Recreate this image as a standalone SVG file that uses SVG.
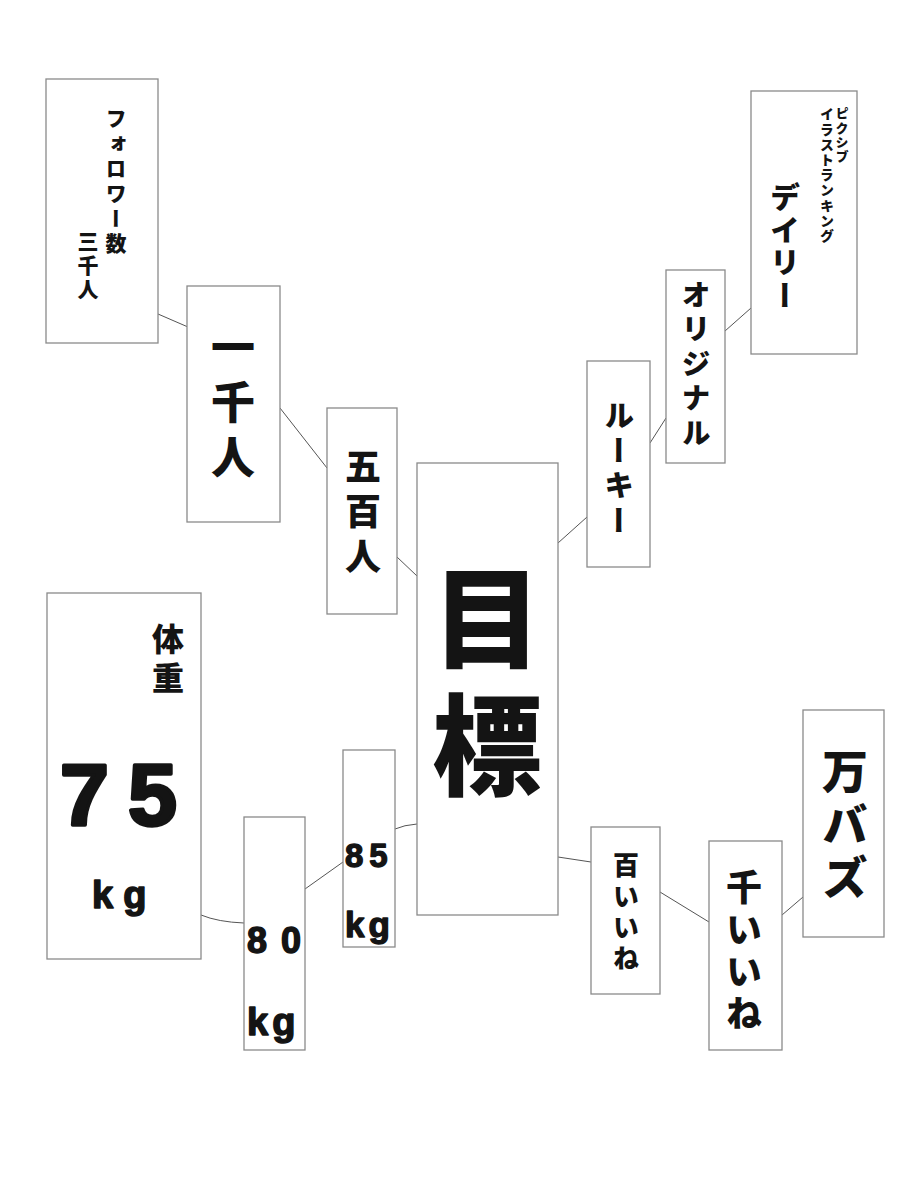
<svg xmlns="http://www.w3.org/2000/svg" width="900" height="1200" viewBox="0 0 900 1200">
<style>
.box{fill:#fff;stroke:#8a8a8a;stroke-width:1.3}
.v{writing-mode:vertical-rl;font-family:"Noto Sans CJK JP","Noto Sans CJK SC",sans-serif;font-weight:900;fill:#141414}
.h{font-family:"Liberation Sans",Arial,sans-serif;font-weight:700;fill:#141414;stroke:#141414;stroke-width:0.04em;stroke-linejoin:round}
.con{fill:none;stroke:#555;stroke-width:1}
</style>
<rect width="900" height="1200" fill="#fff"/>
<g id="connectors">
<path class="con" d="M158,314 L188,327"/>
<path class="con" d="M280,408 L327,468"/>
<path class="con" d="M397,557 L417,576"/>
<path class="con" d="M558,543 L587,517"/>
<path class="con" d="M650,443 L666,418"/>
<path class="con" d="M725,331 L751,308"/>
<path class="con" d="M395,829 Q404,825 417,824"/>
<path class="con" d="M343,862 L305,889"/>
<path class="con" d="M201,915 Q218,922 244,923"/>
<path class="con" d="M558,857 L591,862"/>
<path class="con" d="M660,892 L709,922"/>
<path class="con" d="M782,915 L803,897"/>
</g>
<g id="n-followers">
<rect class="box" x="46" y="79" width="112" height="264"/>
<text class="v" x="116" y="108" font-size="21" letter-spacing="4">フォロワー数</text>
<text class="v" x="88" y="231" font-size="21" letter-spacing="3">三千人</text>
</g>
<g id="n-1000">
<rect class="box" x="187" y="286" width="93" height="236"/>
<text class="v" x="233" y="325" font-size="44" letter-spacing="11">一千人</text>
</g>
<g id="n-500">
<rect class="box" x="327" y="408" width="70" height="206"/>
<text class="v" x="363" y="448" font-size="36" letter-spacing="9">五百人</text>
</g>
<g id="n-goal">
<rect class="box" x="417" y="463" width="141" height="452"/>
<text class="v" x="487" y="563" font-size="110" letter-spacing="17">目標</text>
</g>
<g id="n-rookie">
<rect class="box" x="587" y="361" width="63" height="206"/>
<text class="v" x="619" y="400" font-size="30" letter-spacing="5">ルーキー</text>
</g>
<g id="n-original">
<rect class="box" x="666" y="270" width="59" height="193"/>
<text class="v" x="696" y="280" font-size="29" letter-spacing="5.5">オリジナル</text>
</g>
<g id="n-daily">
<rect class="box" x="751" y="91" width="106" height="263"/>
<text class="v" x="842" y="107" font-size="13" letter-spacing="1.3">ピクシブ</text>
<text class="v" x="827" y="107" font-size="14" letter-spacing="1.2">イラストランキング</text>
<text class="v" x="785" y="182" font-size="30" letter-spacing="2.5">デイリー</text>
</g>
<g id="n-75kg">
<rect class="box" x="47" y="593" width="154" height="366"/>
<text class="v" x="168" y="623" font-size="32" letter-spacing="7">体重</text>
<text class="h" x="60" y="825" font-size="88" letter-spacing="19">75</text>
<text class="h" x="92" y="908" font-size="38" letter-spacing="10">kg</text>
</g>
<g id="n-80kg">
<rect class="box" x="244" y="817" width="61" height="233"/>
<text class="h" x="247" y="953" font-size="36" letter-spacing="14">80</text>
<text class="h" x="247" y="1035" font-size="38" letter-spacing="4">kg</text>
</g>
<g id="n-85kg">
<rect class="box" x="343" y="750" width="52" height="197"/>
<text class="h" x="345" y="867" font-size="33" letter-spacing="6">85</text>
<text class="h" x="345" y="937" font-size="35" letter-spacing="4">kg</text>
</g>
<g id="n-100likes">
<rect class="box" x="591" y="827" width="69" height="167"/>
<text class="v" x="626" y="852" font-size="26" letter-spacing="5">百いいね</text>
</g>
<g id="n-1000likes">
<rect class="box" x="709" y="841" width="73" height="209"/>
<text class="v" x="744" y="869" font-size="36" letter-spacing="6">千いいね</text>
</g>
<g id="n-buzz">
<rect class="box" x="803" y="710" width="81" height="227"/>
<text class="v" x="845" y="748" font-size="46" letter-spacing="7">万バズ</text>
</g>
</svg>
